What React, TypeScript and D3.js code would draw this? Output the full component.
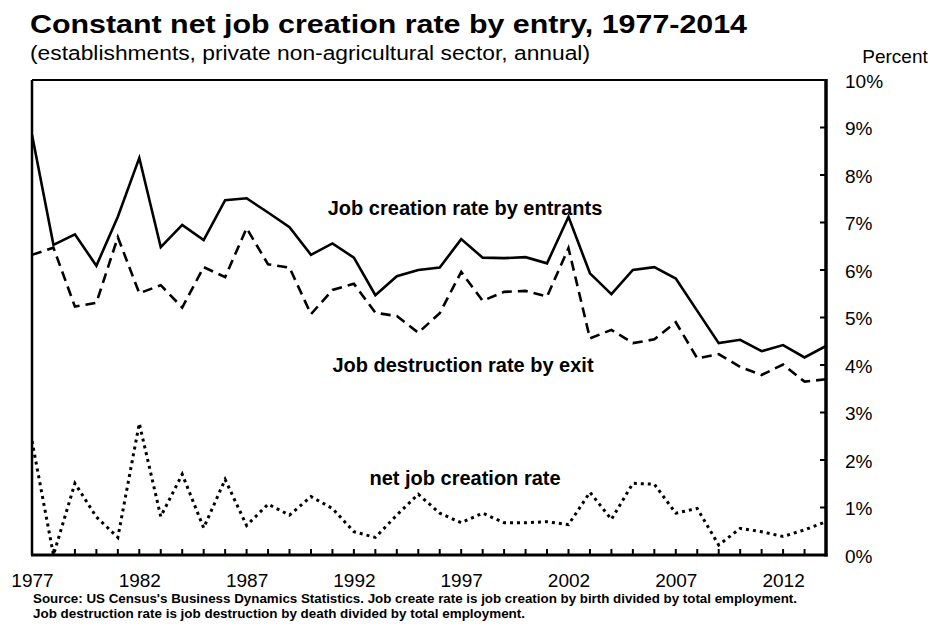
import { scaleLinear, line as d3Line } from "d3";

const years: number[] = [];
for (let y = 1977; y <= 2014; y++) years.push(y);

const creation = [
  8.85, 6.53, 6.75, 6.09, 7.12, 8.36, 6.48, 6.95, 6.63, 7.47,
  7.51, 7.21, 6.9, 6.32, 6.56, 6.26, 5.47, 5.87, 6.0, 6.05,
  6.65, 6.26, 6.25, 6.27, 6.14, 7.12, 5.93, 5.49, 6.0, 6.06,
  5.82, 5.14, 4.46, 4.53, 4.29, 4.42, 4.16, 4.4,
];

const destruction = [
  6.32, 6.47, 5.23, 5.31, 6.69, 5.51, 5.68, 5.21, 6.06, 5.85,
  6.88, 6.12, 6.05, 5.07, 5.58, 5.71, 5.1, 5.03, 4.68, 5.09,
  5.96, 5.35, 5.54, 5.56, 5.44, 6.46, 4.56, 4.74, 4.46, 4.54,
  4.9, 4.14, 4.23, 3.96, 3.79, 4.01, 3.65, 3.7,
];

const net = [
  2.4, 0.0, 1.51, 0.8, 0.37, 2.77, 0.81, 1.7, 0.57, 1.59,
  0.62, 1.07, 0.84, 1.23, 0.98, 0.49, 0.37, 0.84, 1.28, 0.88,
  0.68, 0.88, 0.68, 0.68, 0.7, 0.64, 1.32, 0.75, 1.51, 1.49,
  0.88, 0.98, 0.21, 0.56, 0.49, 0.39, 0.53, 0.7,
];

const yTicks = [0, 1, 2, 3, 4, 5, 6, 7, 8, 9, 10];
const xLabelYears = [1977, 1982, 1987, 1992, 1997, 2002, 2007, 2012];

const W = 933;
const H = 626;
const left = 32;
const right = 826;
const top = 80;
const bottom = 555;
const font = "Arial, 'Liberation Sans', sans-serif";

export default function App() {
  const x = scaleLinear().domain([1977, 2014]).range([left, right]);
  const y = scaleLinear().domain([0, 10]).range([bottom, top]);

  const mk = (vals: number[]) =>
    d3Line<number>()
      .x((_, i) => x(years[i]))
      .y((d) => y(d))(vals) ?? "";

  return (
    <svg
      width={W}
      height={H}
      style={{ position: "absolute", left: 0, top: 0, background: "#fff" }}
      fontFamily={font}
    >
      <text x={30} y={33} fontSize={26} fontWeight="bold" textLength={717} lengthAdjust="spacingAndGlyphs">
        Constant net job creation rate by entry, 1977-2014
      </text>
      <text x={30} y={59.5} fontSize={20} textLength={560} lengthAdjust="spacingAndGlyphs">
        (establishments, private non-agricultural sector, annual)
      </text>
      <text x={895} y={63} fontSize={19} textAnchor="middle">
        Percent
      </text>

      <defs>
        <clipPath id="plot">
          <rect x={left} y={top} width={right - left} height={bottom - top} />
        </clipPath>
      </defs>

      <g clipPath="url(#plot)">
        <path d={mk(creation)} fill="none" stroke="#000" strokeWidth={2.6} />
        <path d={mk(destruction)} fill="none" stroke="#000" strokeWidth={2.6} strokeDasharray="10 6" />
        <path d={mk(net)} fill="none" stroke="#000" strokeWidth={3} strokeDasharray="3 4" />
      </g>

      {/* frame */}
      <line x1={left} x2={right} y1={top} y2={top} stroke="#000" strokeWidth={2} />
      <line x1={left} x2={left} y1={top} y2={bottom} stroke="#000" strokeWidth={2.5} />
      <line x1={right} x2={right} y1={top - 1} y2={bottom + 1.5} stroke="#000" strokeWidth={3.5} />
      <line x1={left - 1} x2={right + 1.5} y1={bottom} y2={bottom} stroke="#000" strokeWidth={3} />

      {/* y ticks */}
      {yTicks.map((t) => (
        <g key={t}>
          {t > 0 && t < 10 && (
            <line x1={right - 6} x2={right} y1={y(t)} y2={y(t)} stroke="#000" strokeWidth={2} />
          )}
          <text x={845} y={y(t) + 7.5} fontSize={19}>
            {t}%
          </text>
        </g>
      ))}

      {/* x ticks */}
      {years.map((yr) =>
        yr > 1977 && yr < 2014 ? (
          <line key={yr} x1={x(yr)} x2={x(yr)} y1={bottom - 6} y2={bottom} stroke="#000" strokeWidth={2} />
        ) : null
      )}
      {xLabelYears.map((yr) => (
        <text key={yr} x={x(yr) + 0.5} y={587} fontSize={19} textAnchor="middle">
          {yr}
        </text>
      ))}

      <text x={465} y={215} fontSize={20} fontWeight="bold" textAnchor="middle">
        Job creation rate by entrants
      </text>
      <text x={463} y={372} fontSize={20} fontWeight="bold" textAnchor="middle">
        Job destruction rate by exit
      </text>
      <text x={465} y={485} fontSize={20} fontWeight="bold" textAnchor="middle">
        net job creation rate
      </text>

      <text x={33} y={603} fontSize={12.5} fontWeight="bold" textLength={764} lengthAdjust="spacingAndGlyphs">
        Source: US Census's Business Dynamics Statistics. Job create rate is job creation by birth divided by total employment.
      </text>
      <text x={33} y={618} fontSize={12.5} fontWeight="bold" textLength={492} lengthAdjust="spacingAndGlyphs">
        Job destruction rate is job destruction by death divided by total employment.
      </text>
    </svg>
  );
}
